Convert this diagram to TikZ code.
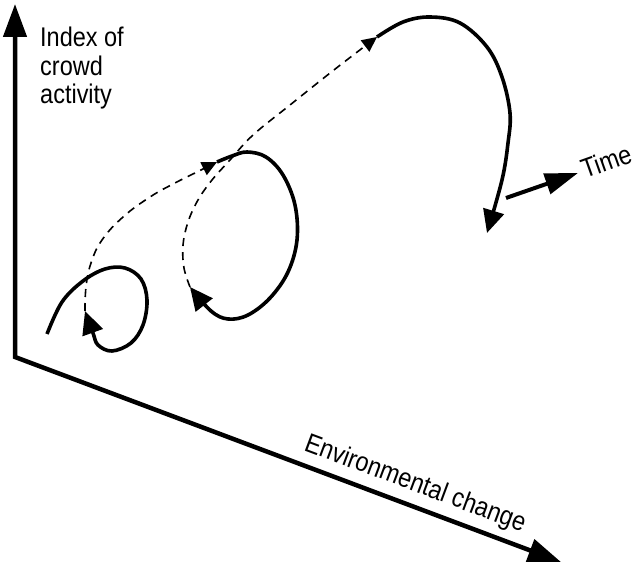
\documentclass[tikz,border=0pt]{standalone}
\usepackage{fontspec}
\setmainfont{Liberation Sans}[FakeStretch=0.87]
\usetikzlibrary{arrows.meta}
\begin{document}
\begin{tikzpicture}[x=1pt,y=-1pt,
  axisline/.style={line width=4.5pt, line join=miter,
    {Triangle[length=33pt,width=23pt]}-{Triangle[length=33pt,width=23pt]}},
  loopline/.style={line width=3.6pt, line cap=butt, -{Triangle[length=23pt,width=21pt]}},
  dashline/.style={line width=1.6pt, dash pattern=on 8pt off 6pt, -{Triangle[length=15pt,width=14pt]}},
  timearrow/.style={line width=4pt, -{Triangle[length=33pt,width=21pt]}},
  lbl/.style={font=\fontsize{27}{28.5}\selectfont, inner sep=0pt}]
\useasboundingbox (0,0) rectangle (641,564);
% axes
\coordinate (O) at (15,357);
\coordinate (Y) at (15,4);
\coordinate (X) at (561,562);
\draw[axisline] (Y) -- (O) -- (X);
% labels
\node[lbl, anchor=north west, align=left] (ylab) at (40,27) {Index of\\crowd\\activity};
\node[lbl, anchor=base west, rotate=-20.5] (xlab) at (303,450) {Environmental change};
% time arrow
\coordinate (TA) at (506,198);
\coordinate (TB) at (578,173);
\draw[timearrow] (TA) -- (TB);
\node[lbl, anchor=base west, rotate=19.5] (tlab) at (585,179) {Time};
% trajectory key points
\coordinate (S) at (47,334);
\coordinate (T1) at (85,311);
\coordinate (T2) at (217,162);
\coordinate (T3) at (190,287);
\coordinate (T4) at (377,37);
\coordinate (T5) at (487,233);
% loop 1
\draw[loopline] plot[smooth, tension=0.6] coordinates {(S) (62,302) (83,281) (105,269) (125,268) (141,279) (147,300) (143,325) (131,343) (112,351) (98,345) (93,333) (T1)};
% dashed 1
\draw[dashline] plot[smooth, tension=0.7] coordinates {(T1) (86,287) (91,263) (102,240) (123,217) (150,197) (175,183) (197,172) (T2)};
% loop 2
\draw[loopline] plot[smooth, tension=0.6] coordinates {(T2) (232,156) (247,152) (266,157) (283,175) (295,205) (297,240) (288,272) (270,298) (248,315) (228,319) (211,311) (T3)};
% dashed 2
\draw[dashline] plot[smooth, tension=0.6] coordinates {(T3) (184,268) (183,245) (188,222) (198,200) (212,180) (230,160) (253,135) (290,105) (325,77) (352,56) (T4)};
% loop 3
\draw[loopline] plot[smooth, tension=0.6] coordinates {(T4) (403,22) (430,17) (460,23) (487,47) (502,77) (510,113) (508,143) (502,180) (T5)};
\end{tikzpicture}
\end{document}
